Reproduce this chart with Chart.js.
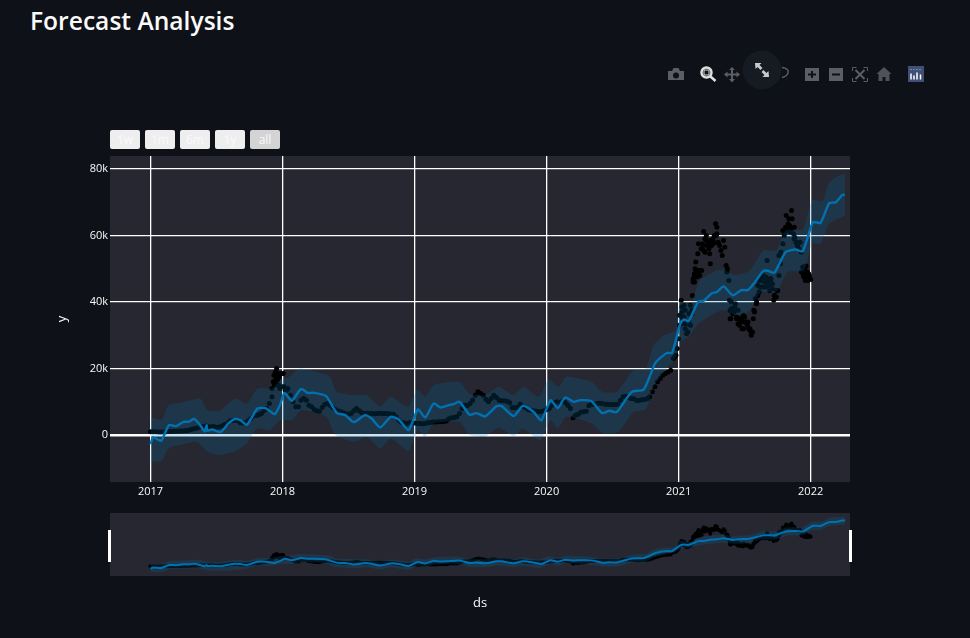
<!DOCTYPE html>
<html>
<head>
<meta charset="utf-8">
<title>Forecast Analysis</title>
<script src="https://cdn.jsdelivr.net/npm/chart.js@4/dist/chart.umd.js"></script>
<style>
  html, body { margin: 0; padding: 0; background: #0e1117; width: 970px; height: 638px; overflow: hidden; }
  h1 { position: absolute; left: 30px; top: 4px; margin: 0; color: #fafafa; font: 600 24.6px "Open Sans", sans-serif; }
  canvas { position: absolute; left: 0; }
  #main { top: 156px; }
  #slider { top: 513px; }
  .range-btn { position: absolute; top: 130px; width: 30px; height: 19px; border-radius: 2px; background: #eeeeee; color: #fafafa;
    font: 12px "Open Sans", sans-serif; line-height: 19px; text-align: center; }
  .range-btn.active { background: #d4d4d4; }
  .grip { position: absolute; top: 530px; width: 3px; height: 32px; background: #fff; }
  #modebar { position: absolute; left: 0; top: 0; }
</style>
</head>
<body>
<h1>Forecast Analysis</h1>

<svg id="modebar" width="970" height="110">
  <g fill="#5c5e63">
    <!-- camera -->
    <path d="M668 71h4l1.500-3h5l1.500 3h4v9h-16z"/>
    <circle cx="676" cy="75.500" r="3" fill="#0e1117"/>
    <!-- pan -->
    <path d="M732 67l3 3h-2v3.500h3.500v-2l3.500 3-3.500 3v-2h-3.500v3.500h2l-3 3.500-3-3.500h2v-3.500h-3.500v2l-3.500-3 3.500-3v2h3.500v-3.500h-2z"/>
    <!-- zoom in, zoom out -->
    <path fill-rule="evenodd" d="M805 68h14v13h-14zM811 71v2.500h-3v2h3v2.500h2v-2.500h3v-2h-3v-2.500z"/>
    <path fill-rule="evenodd" d="M829 68h14v13h-14zM832 73.500v2h8v-2z"/>
    <!-- home -->
    <path d="M884 67l7.500 7h-2v7h-4v-4h-3v4h-4v-7h-2z" fill="#505257"/>
  </g>
  <!-- zoom tool, active -->
  <circle cx="706.500" cy="72.500" r="5" fill="none" stroke="#e0e0e0" stroke-width="2.500"/>
  <rect x="704" y="70" width="5" height="5" fill="none" stroke="#e0e0e0" stroke-width="1"/>
  <path d="M710.500 76.500l5 4.500" stroke="#e0e0e0" stroke-width="2.500"/>
  <!-- lasso, half behind the fullscreen button -->
  <path d="M782 67.500c5 .5 7 3 6 5.500s-3 4-6 4.500" fill="none" stroke="#5c5e63" stroke-width="1.500"/>
  <!-- autoscale -->
  <g fill="none" stroke="#5c5e63" stroke-width="1">
    <path d="M852.500 71v-3.500h4M863.500 67.500h4v3.500M867.500 78v3.500h-4M856.500 81.500h-4v-3.500"/>
    <path d="M855.500 70l9 9M864.500 70l-9 9" stroke-width="2"/>
  </g>
  <!-- plotly logo -->
  <rect x="908" y="66" width="16" height="16" fill="#3f4f75"/>
  <path d="M911 73.500v6M914 75.500v4M917 72.500v7M920.500 74.500v5" stroke="#fff" stroke-width="1.500"/>
  <path d="M910.500 69.500h11" stroke="#8fd0c0" stroke-width="1" stroke-dasharray="1 2"/>
  <!-- fullscreen button -->
  <circle cx="762" cy="70" r="19.500" fill="#151a23"/>
  <path d="M755 63h6.500l-2 2 3 3-2 2-3-3-2 2zM769 77h-6.500l2-2-3-3 2-2 3 3 2-2z" fill="#c8cacc"/>
</svg>

<div class="range-btn" style="left:110px">1w</div>
<div class="range-btn" style="left:145px">1m</div>
<div class="range-btn" style="left:180px">6m</div>
<div class="range-btn" style="left:215px">1y</div>
<div class="range-btn active" style="left:250px">all</div>

<canvas id="main" width="970" height="354"></canvas>
<canvas id="slider" width="970" height="110"></canvas>
<div class="grip" style="left:108px"></div>
<div class="grip" style="left:849px"></div>

<script>
const xTicks = [2017, 2018, 2019, 2020, 2021, 2022];
const yTicks = [0, 20000, 40000, 60000, 80000];
const yTickLabels = ['0', '20k', '40k', '60k', '80k'];

// actual prices, read every 0.02 year from 2017.00
const steadyStart = 2017;
const steadyStep = 0.02;
const steadyPrices = [
  1000, 1000, 1000, 950, 950, 950, 1000, 1050, 1100, 1150,
  1150, 1200, 1250, 1300, 1400, 1600, 1800, 2000, 2200, 2500,
  2600, 2700, 2500, 2500, 2600, 2300, 2400, 2700, 3200, 3500,
  4200, 4400, 4500, 4400, 3700, 3600, 3700, 4300, 5000, 5800,
  5900, 6100, 6500, 7300, 8000, 9500, 11500, 15000, 16500, 14500,
  14500, 13500, 14000, 12000, 10000, 8500, 8500, 10500, 11000, 10500,
  9000, 8500, 7700, 7300, 7200, 8300, 9200, 9500, 9000, 8300,
  7700, 7300, 7000, 6700, 6400, 6300, 6600, 7300, 8000, 7300,
  6700, 6500, 6600, 6500, 6500, 6400, 6500, 6600, 6500, 6500,
  6400, 6300, 6300, 5500, 4500, 3800, 3700, 3500, 3700, 3700,
  3600, 3500, 3500, 3400, 3500, 3700, 3800, 3900, 3900, 4000,
  4000, 4100, 4200, 4900, 5200, 5300, 5500, 6500, 8000, 9000,
  8900, 9500, 10500, 12000, 13000, 12500, 12000, 10800, 10000, 11000,
  12000, 11300, 10500, 10300, 10300, 10200, 9700, 8300, 8200, 8400,
  9300, 8700, 8200, 7700, 7400, 7300, 7200, 7000, 7100, 7300,
  7700, 8000, 9000, 9700, 10000, 9800, 10200, 9800, 9000, 8000,
  5200, 6000, 6300, 6900, 7000, 7200, 8800, 9300, 9200, 9500,
  9600, 9500, 9300, 9300, 9200, 9200, 9200, 9300, 10500, 11500,
  11700, 11300, 11000, 10900, 10500, 10400, 10600, 10700, 10900, 11500,
  13000, 14500, 16000, 17000, 18000, 18500, 19000, 19500, 23000
];

// the two clusters where prices jump around
const clusterYears = [
  2017.92, 2017.93, 2017.935, 2017.94, 2017.945, 2017.95, 2017.955, 2017.96, 2017.965, 2017.97,
  2017.975, 2017.98, 2017.99, 2018.005, 2018.01, 2018.03,
  2020.97, 2020.98, 2020.99, 2021.00, 2021.005, 2021.01, 2021.02, 2021.025, 2021.03, 2021.04,
  2021.05, 2021.06, 2021.07, 2021.075, 2021.08, 2021.09, 2021.10, 2021.105, 2021.11, 2021.12,
  2021.125, 2021.13, 2021.14, 2021.145, 2021.15, 2021.16, 2021.17, 2021.18, 2021.19, 2021.20,
  2021.20, 2021.21, 2021.22, 2021.23, 2021.235, 2021.24, 2021.25, 2021.26, 2021.27, 2021.28,
  2021.285, 2021.29, 2021.30, 2021.31, 2021.32, 2021.33, 2021.34, 2021.35, 2021.36, 2021.365,
  2021.37, 2021.38, 2021.385, 2021.39, 2021.395, 2021.40, 2021.41, 2021.42, 2021.43, 2021.44,
  2021.45, 2021.46, 2021.47, 2021.48, 2021.49, 2021.50, 2021.51, 2021.52, 2021.53, 2021.54,
  2021.55, 2021.56, 2021.565, 2021.57, 2021.58, 2021.59, 2021.60, 2021.61, 2021.62, 2021.63,
  2021.64, 2021.65, 2021.66, 2021.67, 2021.68, 2021.69, 2021.70, 2021.71, 2021.72, 2021.73,
  2021.74, 2021.75, 2021.76, 2021.77, 2021.78, 2021.79, 2021.80, 2021.81, 2021.815, 2021.82,
  2021.83, 2021.835, 2021.84, 2021.85, 2021.855, 2021.86, 2021.87, 2021.875, 2021.88, 2021.89,
  2021.90, 2021.91, 2021.92, 2021.93, 2021.94, 2021.945, 2021.95, 2021.955, 2021.96, 2021.965,
  2021.97, 2021.975, 2021.98, 2021.985, 2021.99, 2022.00,
  2021.11, 2021.12, 2021.13, 2021.15, 2021.175, 2021.16, 2021.14, 2021.12,
  2021.19, 2021.21, 2021.225, 2021.24, 2021.26, 2021.275, 2021.19, 2021.23, 2021.25, 2021.29,
  2021.025, 2021.04, 2021.04, 2021.06, 2021.09, 2021.10, 2021.01, 2021.05,
  2021.40, 2021.425, 2021.45, 2021.41, 2021.44, 2021.39, 2021.475, 2021.50, 2021.46, 2021.49,
  2021.525, 2021.54, 2021.55,
  2021.60, 2021.625, 2021.65, 2021.675, 2021.70, 2021.64, 2021.66, 2021.69, 2021.71, 2021.61,
  2021.59, 2021.575, 2021.74, 2021.725,
  2021.79, 2021.81, 2021.84, 2021.85, 2021.805, 2021.825, 2021.875, 2021.89, 2021.90, 2021.775,
  2021.76,
  2021.93, 2021.945, 2021.96, 2021.97, 2021.99
];
const clusterPrices = [
  14000, 16000, 18000, 15500, 19000, 17000, 20000, 16500, 18500, 15000,
  17500, 14000, 18500, 18500, 14500, 13500,
  23500, 24000, 26000, 29000, 33000, 36000, 40500, 37000, 35000, 33500,
  32000, 30500, 31000, 34000, 36500, 39000, 37500, 42000, 46000, 48000,
  50000, 52000, 49000, 54500, 57500, 49500, 56000, 57500, 61200, 59000,
  55000, 60000, 57000, 58000, 54500, 51500, 58500, 57500, 60000, 63500,
  60000, 62500, 58000, 57000, 55500, 54000, 58500, 56500, 51000, 49000,
  50000, 46500, 40500, 37500, 35000, 40000, 38000, 37000, 39500, 35500,
  33500, 35000, 34000, 32000, 36000, 35500, 34000, 33000, 32000, 31500,
  30000, 31000, 35000, 37500, 41000, 39500, 42000, 46500, 44500, 47000,
  48000, 46000, 47500, 52500, 45000, 47000, 45500, 44000, 40500, 42000,
  41500, 43500, 48000, 51500, 54000, 57500, 60000, 61500, 66000, 62000,
  63500, 65000, 62500, 61000, 67500, 65000, 60500, 62500, 59500, 58000,
  57000, 56000, 58000, 55000, 50500, 48500, 47500, 50000, 48000, 50800,
  47000, 49000, 46500, 48500, 47500, 46800,
  47000, 48500, 49000, 49500, 49500, 48000, 47500, 46000,
  57000, 58500, 57500, 58500, 59000, 57800, 55500, 56000, 57000, 60500,
  38500, 39000, 35500, 33500, 33000, 36500, 36000, 37500,
  38000, 38500, 37500, 36500, 35000, 35000, 35000, 34000, 33000, 32000,
  34000, 32000, 31000,
  45000, 46500, 47000, 46000, 47000, 44500, 44500, 43500, 45500, 43000,
  40000, 37000, 43500, 42000,
  61500, 62500, 63000, 62000, 61000, 61500, 59000, 58000, 57000, 55000,
  54000,
  49000, 48000, 46500, 47500, 48000
];

// forecast line
const forecastYears = [
  2017.00, 2017.02, 2017.08, 2017.14, 2017.195, 2017.25, 2017.29, 2017.33, 2017.376, 2017.41,
  2017.425, 2017.43, 2017.465, 2017.53, 2017.59, 2017.64, 2017.68, 2017.73, 2017.81, 2017.875,
  2017.94, 2017.98, 2018.015, 2018.07, 2018.14, 2018.19, 2018.24, 2018.33, 2018.41, 2018.475,
  2018.54, 2018.625, 2018.676, 2018.74, 2018.82, 2018.88, 2018.955, 2019.025, 2019.08, 2019.145,
  2019.195, 2019.26, 2019.295, 2019.34, 2019.417, 2019.47, 2019.535, 2019.62, 2019.66, 2019.75,
  2019.82, 2019.90, 2019.96, 2020.03, 2020.085, 2020.14, 2020.205, 2020.255, 2020.34, 2020.42,
  2020.477, 2020.53, 2020.645, 2020.735, 2020.79, 2020.825, 2020.91, 2020.95, 2021.0125, 2021.04,
  2021.075, 2021.15, 2021.19, 2021.25, 2021.29, 2021.34, 2021.41, 2021.475, 2021.525, 2021.575,
  2021.64, 2021.675, 2021.725, 2021.81, 2021.885, 2021.94, 2022.0175, 2022.075, 2022.14, 2022.19,
  2022.24, 2022.26
];
const forecastValues = [
  -2700, -700, -1700, 3000, 2700, 4000, 4000, 4900, 3000, 1100,
  3000, 1300, 1700, 900, 3500, 4900, 4500, 3100, 8000, 8000,
  6300, 9000, 12700, 10300, 13900, 12700, 12700, 11700, 6700, 6000,
  3900, 6000, 4900, 2300, 5500, 4700, 1500, 7700, 5300, 9500,
  8300, 9000, 9300, 10000, 6100, 6600, 5600, 8700, 8700, 5700,
  8800, 7000, 4400, 10500, 8100, 11300, 10000, 10500, 10200, 6600,
  7300, 6900, 13000, 13700, 18500, 21800, 24700, 24700, 33500, 34800,
  34200, 40200, 40400, 42600, 43000, 44700, 42000, 43600, 43600, 45800,
  49300, 49400, 48800, 55000, 55800, 55200, 64000, 63800, 69700, 70000,
  72200, 72200
];

// forecast band
const upperYears = [
  2017.00, 2017.085, 2017.136, 2017.225, 2017.376, 2017.43, 2017.53, 2017.64, 2017.73, 2017.81,
  2017.92, 2017.98, 2018.05, 2018.13, 2018.26, 2018.36, 2018.41, 2018.54, 2018.64, 2018.74,
  2018.815, 2018.92, 2018.955, 2019.02, 2019.08, 2019.145, 2019.34, 2019.41, 2019.535, 2019.635,
  2019.75, 2019.825, 2019.94, 2020.015, 2020.09, 2020.15, 2020.34, 2020.42, 2020.53, 2020.66,
  2020.75, 2020.81, 2020.89, 2020.975, 2021.01, 2021.09, 2021.16, 2021.29, 2021.35, 2021.425,
  2021.54, 2021.64, 2021.74, 2021.81, 2021.94, 2022.01, 2022.09, 2022.14, 2022.21, 2022.26
];
const upperValues = [
  5300, 4700, 9000, 9700, 11000, 7500, 7500, 11000, 9500, 14000,
  14000, 16500, 17500, 20000, 19000, 17500, 13000, 12000, 12000, 8500,
  11500, 9000, 8500, 13700, 11500, 15000, 16000, 12500, 12000, 14500,
  12000, 14500, 11500, 16700, 14500, 17500, 16000, 13000, 13000, 19500,
  20000, 27000, 30000, 31500, 40000, 39500, 46500, 49500, 49500, 48200,
  49500, 55500, 55500, 61500, 61800, 70500, 70500, 76000, 78000, 78500
];
const lowerYears = [
  2017.00, 2017.02, 2017.085, 2017.136, 2017.225, 2017.35, 2017.43, 2017.52, 2017.63, 2017.73,
  2017.805, 2017.905, 2017.98, 2018.07, 2018.14, 2018.33, 2018.40, 2018.54, 2018.64, 2018.74,
  2018.82, 2018.955, 2019.025, 2019.08, 2019.145, 2019.34, 2019.417, 2019.535, 2019.635, 2019.75,
  2019.82, 2019.95, 2020.03, 2020.085, 2020.15, 2020.34, 2020.43, 2020.545, 2020.66, 2020.75,
  2020.81, 2020.91, 2020.975, 2021.01, 2021.075, 2021.15, 2021.29, 2021.36, 2021.425, 2021.525,
  2021.625, 2021.74, 2021.825, 2021.95, 2022.01, 2022.075, 2022.14, 2022.26
];
const lowerValues = [
  -8500, -8000, -7700, -4000, -3000, -2000, -5000, -6000, -5000, -2500,
  2000, 1500, 4500, 4500, 7500, 5500, 0, -2000, -500, -4000,
  -1000, -4700, 1500, -500, 3500, 4000, 0, -500, 2300, -300,
  2000, -1500, 4500, 2000, 5500, 3500, 500, 1000, 7000, 7700,
  14500, 20000, 23000, 28000, 29500, 33500, 37000, 37500, 36000, 37000,
  43000, 43000, 49000, 49500, 57500, 57500, 63500, 66000
];

const xMin = 2016.693;
const xMax = 2022.298;
const yMin = -14100;
const yMax = 83900;

const plotBg = {
    id: 'plotBg',
    beforeDraw(chart) {
        const a = chart.chartArea;
        chart.ctx.fillStyle = '#262730';
        chart.ctx.fillRect(a.left, a.top, a.right - a.left, a.bottom - a.top);
    }
};

function toPoints(xs, ys) {
    return xs.map((x, i) => ({ x: x, y: ys[i] }));
}

function actualPoints() {
    const steady = steadyPrices.map((p, i) => ({ x: steadyStart + i * steadyStep, y: p }));
    return steady.concat(toPoints(clusterYears, clusterPrices));
}

function buildDatasets(dotRadius, lineWidth) {
    return [
        {
            data: actualPoints(), showLine: false, order: 3,
            pointRadius: dotRadius, pointBackgroundColor: '#000', pointBorderWidth: 0
        },
        {
            data: toPoints(upperYears, upperValues), order: 2, pointRadius: 0, borderWidth: 0, tension: 0.2,
            fill: '+1', backgroundColor: 'rgba(0, 114, 178, 0.2)'
        },
        {
            data: toPoints(lowerYears, lowerValues), order: 2, pointRadius: 0, borderWidth: 0, tension: 0.2
        },
        {
            data: toPoints(forecastYears, forecastValues), order: 1, pointRadius: 0, tension: 0.2,
            borderColor: '#0072B2', borderWidth: lineWidth, borderJoinStyle: 'round'
        }
    ];
}

const tickFont = { family: '"Open Sans", sans-serif', size: 11 };
const titleFont = { family: '"Open Sans", sans-serif', size: 13 };

new Chart(document.getElementById('main'), {
    type: 'line',
    data: { datasets: buildDatasets(2.5, 2.4) },
    options: {
        responsive: false,
        animation: false,
        layout: { autoPadding: false, padding: { left: 54, right: 120, top: 0, bottom: 0 } },
        plugins: { legend: { display: false }, tooltip: { enabled: false } },
        scales: {
            x: {
                type: 'linear', min: xMin, max: xMax,
                afterBuildTicks: axis => { axis.ticks = xTicks.map(v => ({ value: v })); },
                afterFit: axis => { axis.height = 28; axis.paddingLeft = 0; axis.paddingRight = 0; },
                border: { display: false },
                grid: { color: '#fff', lineWidth: 1.3, drawTicks: false },
                ticks: {
                    color: '#fafafa', font: tickFont, padding: 3, maxRotation: 0, autoSkip: false,
                    callback: v => String(v)
                }
            },
            y: {
                min: yMin, max: yMax,
                afterBuildTicks: axis => { axis.ticks = yTicks.map(v => ({ value: v })); },
                afterFit: axis => { axis.width = 56; axis.paddingTop = 0; axis.paddingBottom = 0; },
                border: { display: false },
                grid: {
                    color: '#fff', drawTicks: false,
                    lineWidth: c => (c.tick && c.tick.value === 0 ? 2.6 : 1.3)
                },
                title: { display: true, text: 'y', color: '#fafafa', font: titleFont, padding: 0 },
                ticks: {
                    color: '#fafafa', font: tickFont, padding: 2, autoSkip: false,
                    callback: v => yTickLabels[yTicks.indexOf(v)]
                }
            }
        }
    },
    plugins: [plotBg]
});

new Chart(document.getElementById('slider'), {
    type: 'line',
    data: { datasets: buildDatasets(2, 2) },
    options: {
        responsive: false,
        animation: false,
        layout: { autoPadding: false, padding: { left: 110, right: 120, top: 0, bottom: 0 } },
        plugins: { legend: { display: false }, tooltip: { enabled: false } },
        scales: {
            x: {
                type: 'linear', min: xMin, max: xMax,
                afterFit: axis => { axis.height = 47; },
                border: { display: false },
                grid: { display: false },
                ticks: { display: false },
                title: { display: true, text: 'ds', color: '#fafafa', font: titleFont, padding: { top: 0, bottom: 12 } }
            },
            y: { display: false, min: yMin, max: yMax }
        }
    },
    plugins: [plotBg]
});
</script>
</body>
</html>
